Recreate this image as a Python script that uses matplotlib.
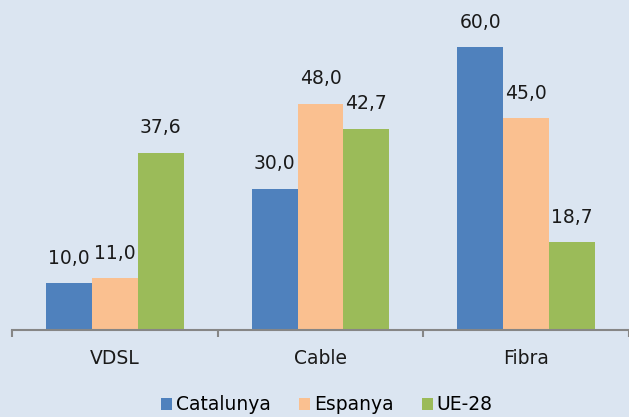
import matplotlib
matplotlib.use('Agg')
import matplotlib.pyplot as plt
import numpy as np

categories = ['VDSL', 'Cable', 'Fibra']
series = ['Catalunya', 'Espanya', 'UE-28']
catalunya = [10.0, 30.0, 60.0]
espanya = [11.0, 48.0, 45.0]
ue28 = [37.6, 42.7, 18.7]
colors = ['#4F81BD', '#FAC090', '#9BBB59']

bg = '#DBE5F1'
fs = 13.5
fig = plt.figure(figsize=(6.29, 4.17), dpi=100)
fig.patch.set_facecolor(bg)
ax = fig.add_axes([12 / 629, 87 / 417, 1 - 12 / 629, 1 - 87 / 417])
ax.set_facecolor(bg)

x = np.arange(len(categories))
w = 0.223
for i, (vals, name) in enumerate(zip([catalunya, espanya, ue28], series)):
    pos = x + (i - 1) * w
    ax.bar(pos, vals, width=w, color=colors[i], label=name, zorder=2)
    for px, v in zip(pos, vals):
        ax.annotate(f'{v:.1f}'.replace('.', ','), (px, v), xytext=(0, 11),
                    textcoords='offset points', ha='center', va='bottom',
                    fontsize=fs, color='#1a1a1a')

ax.set_xlim(-0.5, 2.5)
ax.set_ylim(0, 70)
ax.set_yticks([])
for s in ['left', 'right', 'top']:
    ax.spines[s].set_visible(False)
ax.spines['bottom'].set_color('#868686')
ax.spines['bottom'].set_linewidth(1.5)

# ticks at the category boundaries, labels in the middle
ax.set_xticks([-0.5, 0.5, 1.5, 2.5])
ax.set_xticklabels([])
ax.tick_params(axis='x', which='major', direction='out', length=5,
               width=1.5, color='#868686')
ax.set_xticks(x, minor=True)
ax.set_xticklabels(categories, minor=True, fontsize=fs, color='#1a1a1a')
ax.tick_params(axis='x', which='minor', length=0, pad=14)

fig.legend(loc='center', bbox_to_anchor=(327 / 629, 1 - 405 / 417), ncol=3,
           frameon=False, fontsize=fs, handlelength=0.6, handleheight=0.6,
           handletextpad=0.2, columnspacing=1.5, borderaxespad=0)

fig.savefig('out.png', dpi=100, facecolor=bg)
